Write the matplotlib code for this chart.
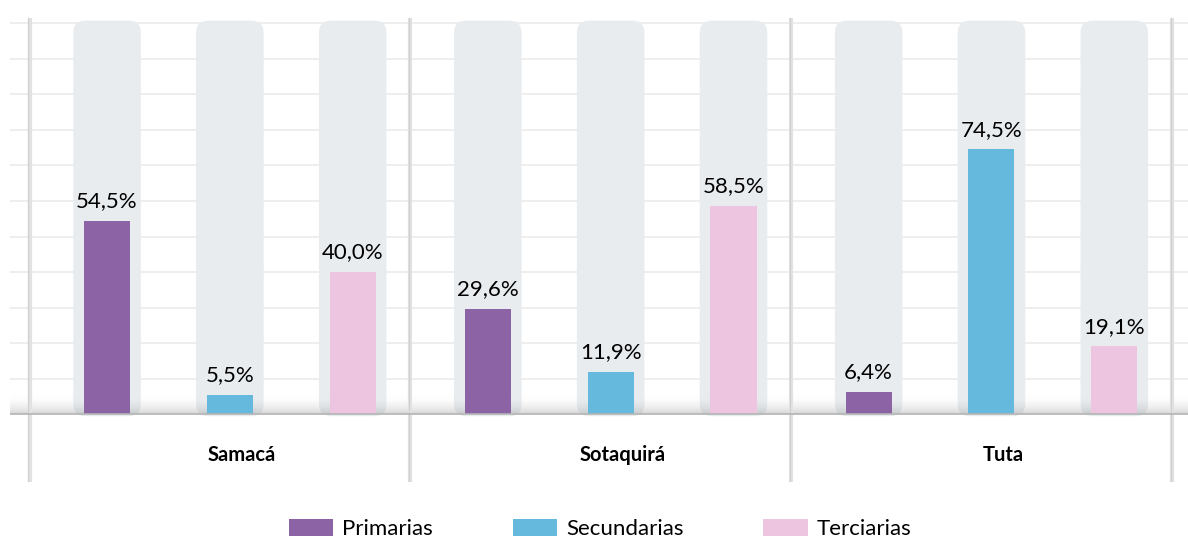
import matplotlib.pyplot as plt
import numpy as np
from matplotlib.patches import FancyBboxPatch, Patch
from matplotlib.colors import LinearSegmentedColormap

plt.rcParams['font.family'] = ['Lato', 'DejaVu Sans']

municipios = ['Samacá', 'Sotaquirá', 'Tuta']
series = ['Primarias', 'Secundarias', 'Terciarias']
primarias = [54.5, 29.6, 6.4]
secundarias = [5.5, 11.9, 74.5]
terciarias = [40.0, 58.5, 19.1]
colores = ['#8c64a6', '#65b9dc', '#eec5e0']

valores = [primarias, secundarias, terciarias]

fig = plt.figure(figsize=(11.88, 5.4), dpi=100)
ax = fig.add_axes([10 / 1188, 58 / 540, 1178 / 1188, 466 / 540])

group_gap = 3.1
ax.set_xlim(-0.79, 8.8)
ax.set_ylim(-19, 112)

# gridlines
for g in range(10, 111, 10):
    ax.axhline(g, color='#ebebeb', lw=1.2, zorder=0)

# rounded grey backgrounds
aspect = (131 / 466) / (9.59 / 1178)
for i in range(len(municipios)):
    for j in range(len(series)):
        x = i * group_gap + j
        bg = FancyBboxPatch((x - 0.275, -0.5), 0.55, 111.2,
                            boxstyle='round,pad=0,rounding_size=0.1',
                            mutation_aspect=aspect, fc='#e8ecef', ec='none', zorder=1)
        ax.add_patch(bg)

# shadow above the baseline
grad = np.linspace(0, 1, 100).reshape(-1, 1)
cmap = LinearSegmentedColormap.from_list('sh', [(0.6, 0.6, 0.6, 0.4), (1, 1, 1, 0)])
ax.imshow(grad, extent=(-0.79, 8.8, 0, 5.5), origin='lower', cmap=cmap,
          aspect='auto', zorder=2)

# coloured bars
for j, vals in enumerate(valores):
    xs = np.arange(len(municipios)) * group_gap + j
    bars = ax.bar(xs, vals, 0.375, color=colores[j], zorder=3)
    for b, v in zip(bars, vals):
        ax.annotate('{:.1f}%'.format(v).replace('.', ','),
                    xy=(b.get_x() + b.get_width() / 2, v), xytext=(0, 7),
                    textcoords='offset points', ha='center', va='bottom',
                    fontsize=16, zorder=4)

# baseline
ax.axhline(0, color='#b4b4b4', lw=1.2, zorder=3)

# separators between groups
for k in range(len(municipios) + 1):
    sx = k * group_gap - 0.63
    ax.plot([sx, sx], [-19, 111.5], color='#e2e2e2', lw=3, zorder=2,
            solid_capstyle='butt')
    ax.plot([sx - 0.012, sx - 0.012], [-19, 111.5], color='#cfcfcf', lw=0.8,
            zorder=2)

# group labels
for i, m in enumerate(municipios):
    ax.text(i * group_gap + 1.1, -11.5, m, ha='center', va='center',
            fontsize=14.5, fontweight='bold')

ax.set_xlim(-0.79, 8.8)
ax.set_ylim(-19, 112)
ax.axis('off')

handles = [Patch(facecolor=c, edgecolor='none') for c in colores]
fig.legend(handles, series, loc='center', bbox_to_anchor=(600 / 1188, 1 - 529 / 540),
           ncol=3, frameon=False, fontsize=16, handlelength=2.0, handleheight=0.8,
           handletextpad=0.4, columnspacing=3.6)

fig.savefig('out.png', dpi=100)
